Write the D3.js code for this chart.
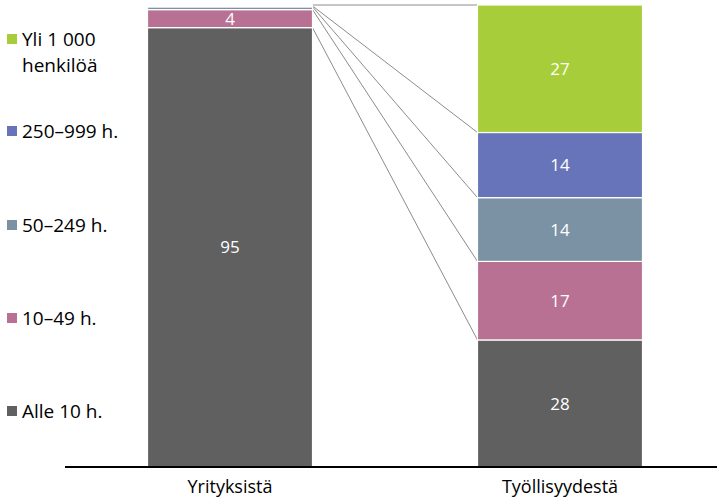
<!DOCTYPE html>
<html><head><meta charset="utf-8">
<script src="https://cdn.jsdelivr.net/npm/d3@7"></script>
<style>body{margin:0;background:#fff}svg{display:block;font-family:"Open Sans",sans-serif}</style>
</head><body>
<svg id="c" width="717" height="500"></svg>
<script>
const categories = ["Yrityksistä", "Työllisyydestä"];
const seriesNames = ["Alle 10 h.", "10–49 h.", "50–249 h.", "250–999 h.", "Yli 1 000 henkilöä"];
const legendLines = [["Alle 10 h."], ["10–49 h."], ["50–249 h."], ["250–999 h."], ["Yli 1 000", "henkilöä"]];
const yritykset = [95.1, 3.9, 0.6, 0.2, 0.2];
const tyollisyys = [27.5, 17.0, 13.8, 14.1, 27.6];
const yritysLabels = ["95", "4", "", "", ""];
const tyollisyysLabels = ["28", "17", "14", "14", "27"];
const colors = ["#606060", "#b87192", "#7b92a5", "#6774b9", "#a8cd3a"];

const svg = d3.select("#c");
const x = d3.scaleBand().domain(categories).range([65, 725]).paddingInner(0.5).paddingOuter(0.25);
const y = d3.scaleLinear().domain([0, 100]).range([467, 5]);

const values = [yritykset, tyollisyys];
const labels = [yritysLabels, tyollisyysLabels];
const stacks = values.map(v => { let acc = 0; return v.map(d => { const s = [acc, acc + d]; acc += d; return s; }); });

// connectors
const xl = x(categories[0]) + x.bandwidth(), xr = x(categories[1]);
svg.append("g").selectAll("line").data(seriesNames).join("line")
  .attr("x1", xl).attr("x2", xr)
  .attr("y1", (d, i) => y(stacks[0][i][1])).attr("y2", (d, i) => y(stacks[1][i][1]))
  .attr("stroke", "#8c8c8c").attr("stroke-width", 1);

categories.forEach((c, ci) => {
  const g = svg.append("g");
  g.selectAll("rect").data(stacks[ci]).join("rect")
    .attr("x", x(c)).attr("width", x.bandwidth())
    .attr("y", d => y(d[1])).attr("height", d => y(d[0]) - y(d[1]))
    .attr("fill", (d, i) => colors[i]).attr("stroke", "#fff").attr("stroke-width", 1.2);
  g.selectAll("text").data(stacks[ci]).join("text")
    .attr("x", x(c) + x.bandwidth() / 2).attr("y", d => (y(d[0]) + y(d[1])) / 2)
    .attr("dy", "0.36em").attr("text-anchor", "middle").attr("fill", "#fff")
    .attr("font-size", 17).text((d, i) => labels[ci][i]);
});

// axis
const ax = svg.append("g").attr("transform", "translate(0,467)")
  .call(d3.axisBottom(x).tickSize(0).tickPadding(13));
ax.select(".domain").attr("d", "M65,0H717").attr("stroke", "#000").attr("stroke-width", 2);
ax.selectAll("text").attr("font-size", 18).attr("font-family", "Open Sans").attr("fill", "#000");

// legend
const legendY = [411, 318, 225, 131, 39];
const lg = svg.append("g");
legendLines.forEach((lines, i) => {
  lg.append("rect").attr("x", 7).attr("y", legendY[i] - 5).attr("width", 10).attr("height", 10).attr("fill", colors[i]);
  lines.forEach((t, j) => {
    lg.append("text").attr("x", 22).attr("y", legendY[i] + j * 26).attr("dy", "0.36em")
      .attr("font-size", 19).attr("fill", "#000").text(t);
  });
});
</script>
</body></html>
